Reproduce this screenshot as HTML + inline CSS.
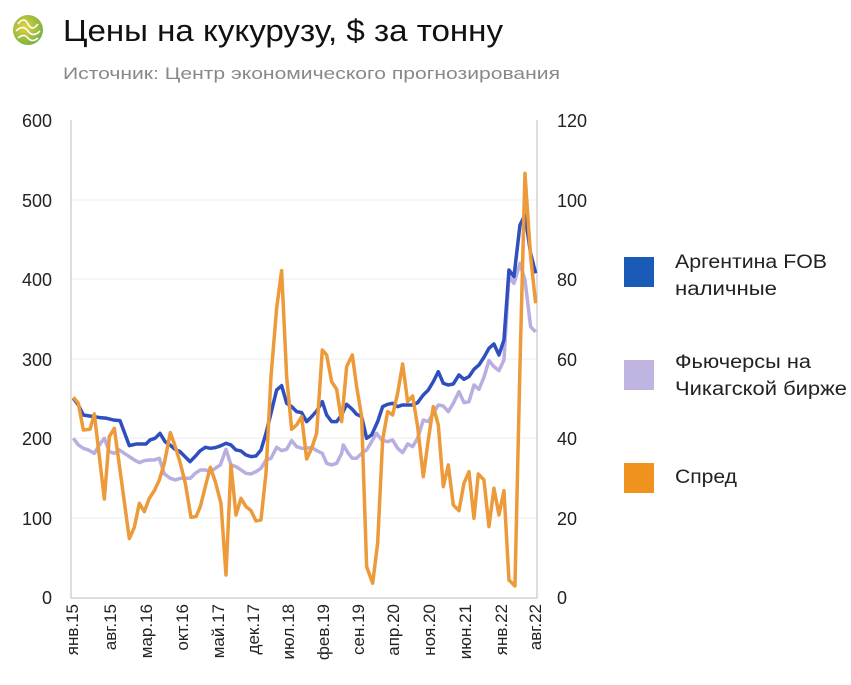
<!DOCTYPE html>
<html><head><meta charset="utf-8"><style>
body{margin:0;background:#fff;width:851px;height:680px;overflow:hidden;font-family:"Liberation Sans","DejaVu Sans",sans-serif}
</style></head><body>
<svg width="851" height="680" viewBox="0 0 851 680" xmlns="http://www.w3.org/2000/svg" font-family="Liberation Sans, DejaVu Sans, sans-serif">
<defs><radialGradient id="lg" cx="40%" cy="40%" r="60%"><stop offset="0" stop-color="#e6d23a"/><stop offset="1" stop-color="#7cb342"/></radialGradient></defs>
<circle cx="28" cy="30" r="15" fill="url(#lg)"/>
<path d="M18 24 q6 -8 10 0 t10 0 M16 31 q7 -7 12 0 t12 0 M18 38 q6 -5 10 0 t10 0" stroke="#fff" stroke-width="1.6" fill="none"/>
<text x="63" y="41" font-size="31" fill="#111" textLength="440" lengthAdjust="spacingAndGlyphs">Цены на кукурузу, $ за тонну</text>
<text x="63" y="79" font-size="17" fill="#888" textLength="497" lengthAdjust="spacingAndGlyphs">Источник: Центр экономического прогнозирования</text>
<g stroke="#eee" stroke-width="1">
<line x1="70" y1="200" x2="537" y2="200"/><line x1="70" y1="279" x2="537" y2="279"/><line x1="70" y1="359" x2="537" y2="359"/><line x1="70" y1="438" x2="537" y2="438"/><line x1="70" y1="518" x2="537" y2="518"/>
</g>
<line x1="71" y1="120" x2="71" y2="598" stroke="#bbb"/>
<line x1="537" y1="120" x2="537" y2="598" stroke="#bbb"/>
<line x1="71" y1="598" x2="537" y2="598" stroke="#bbb"/>
<g font-size="18" fill="#222" text-anchor="end">
<text x="52" y="127">600</text><text x="52" y="207">500</text><text x="52" y="286">400</text><text x="52" y="366">300</text><text x="52" y="445">200</text><text x="52" y="525">100</text><text x="52" y="604">0</text>
</g>
<g font-size="18" fill="#222">
<text x="557" y="127">120</text><text x="557" y="207">100</text><text x="557" y="286">80</text><text x="557" y="366">60</text><text x="557" y="445">40</text><text x="557" y="525">20</text><text x="557" y="604">0</text>
</g>
<g font-size="17" fill="#222" text-anchor="end">
<text transform="translate(78,604) rotate(-90)">янв.15</text>
<text transform="translate(116,604) rotate(-90)">авг.15</text>
<text transform="translate(152,604) rotate(-90)">мар.16</text>
<text transform="translate(188,604) rotate(-90)">окт.16</text>
<text transform="translate(224,604) rotate(-90)">май.17</text>
<text transform="translate(259,604) rotate(-90)">дек.17</text>
<text transform="translate(294,604) rotate(-90)">июл.18</text>
<text transform="translate(329,604) rotate(-90)">фев.19</text>
<text transform="translate(364,604) rotate(-90)">сен.19</text>
<text transform="translate(399,604) rotate(-90)">апр.20</text>
<text transform="translate(435,604) rotate(-90)">ноя.20</text>
<text transform="translate(471,604) rotate(-90)">июн.21</text>
<text transform="translate(507,604) rotate(-90)">янв.22</text>
<text transform="translate(541,604) rotate(-90)">авг.22</text>
</g>
<g transform="translate(60,120) scale(0.3333)" fill="none" stroke-linejoin="round">
<polyline vector-effect="non-scaling-stroke" stroke="#b8aee0" stroke-width="3.5" points="40,955 55,975 70,985 85,990 103,1000 118,975 133,955 148,995 163,1000 178,990 193,1000 208,1010 223,1020 238,1028 253,1022 268,1020 283,1020 298,1015 313,1062 331,1075 346,1080 361,1075 376,1075 391,1075 406,1060 421,1050 436,1050 451,1055 466,1045 481,1035 498,988 513,1035 528,1040 543,1050 558,1060 573,1062 588,1055 603,1045 618,1020 633,1015 650,982 665,992 680,988 695,962 710,980 725,985 740,985 755,982 770,992 787,1000 800,1030 815,1035 830,1030 845,1000 850,975 865,1000 877,1015 890,1015 905,1000 920,990 935,965 950,940 965,960 983,965 998,960 1013,985 1028,998 1043,972 1058,980 1073,955 1090,900 1105,905 1120,880 1135,855 1150,858 1165,875 1180,850 1197,815 1212,848 1227,845 1242,795 1257,808 1272,772 1287,722 1302,740 1317,752 1332,720 1347,470 1362,490 1380,430 1395,480 1412,620 1427,636"/>
<polyline vector-effect="non-scaling-stroke" stroke="#2f4fbf" stroke-width="3.5" points="40,835 55,855 70,885 100,890 120,893 140,895 160,900 180,902 208,977 230,972 258,972 270,960 285,955 300,940 315,965 330,975 345,988 360,995 375,1010 390,1025 405,1010 420,993 436,982 451,985 466,983 481,978 498,970 513,975 528,990 543,993 558,1005 573,1010 588,1008 603,990 618,940 633,880 650,810 665,797 680,850 695,860 710,875 725,878 740,905 755,890 770,873 787,845 800,885 815,905 830,905 845,885 860,853 877,868 890,883 905,890 920,955 935,945 953,905 968,860 983,853 998,850 1013,860 1028,855 1043,855 1058,855 1073,848 1090,825 1105,810 1120,785 1135,755 1150,790 1165,795 1180,792 1197,765 1212,778 1227,770 1242,748 1257,735 1272,712 1287,685 1302,672 1317,705 1332,660 1347,450 1362,470 1380,315 1395,285 1412,400 1427,460"/>
<polyline vector-effect="non-scaling-stroke" stroke="#ec9a3a" stroke-width="3.5" points="40,832 55,850 70,930 90,928 103,882 133,1137 148,950 163,925 208,1256 223,1222 238,1150 253,1175 268,1135 283,1112 298,1080 313,1030 331,938 346,980 361,1030 376,1090 393,1192 408,1190 421,1160 436,1100 451,1042 466,1085 483,1150 498,1365 513,1035 528,1185 543,1135 558,1160 573,1172 588,1203 603,1200 618,1060 633,770 650,565 665,452 680,770 695,928 710,915 725,890 740,1017 755,985 770,940 787,690 800,705 815,785 830,808 845,905 860,740 877,705 890,800 905,890 920,1340 938,1390 953,1270 968,960 983,875 998,885 1013,820 1028,732 1043,845 1058,828 1073,920 1090,1070 1105,960 1120,860 1135,915 1150,1100 1165,1035 1180,1155 1197,1172 1212,1090 1227,1055 1242,1195 1255,1062 1272,1080 1287,1220 1302,1105 1317,1185 1332,1112 1347,1380 1365,1398 1380,740 1395,160 1412,410 1427,550"/>
</g>
<rect x="624" y="257" width="30" height="30" fill="#1a5bb8"/>
<rect x="624" y="360" width="30" height="30" fill="#c0b4e0"/>
<rect x="624" y="463" width="30" height="30" fill="#f0921e"/>
<g font-size="19" fill="#222">
<text x="675" y="268" textLength="152" lengthAdjust="spacingAndGlyphs">Аргентина FOB</text><text x="675" y="295" textLength="102" lengthAdjust="spacingAndGlyphs">наличные</text>
<text x="675" y="368" textLength="136" lengthAdjust="spacingAndGlyphs">Фьючерсы на</text><text x="675" y="395" textLength="172" lengthAdjust="spacingAndGlyphs">Чикагской бирже</text>
<text x="675" y="483" textLength="62" lengthAdjust="spacingAndGlyphs">Спред</text>
</g>
</svg>
</body></html>
